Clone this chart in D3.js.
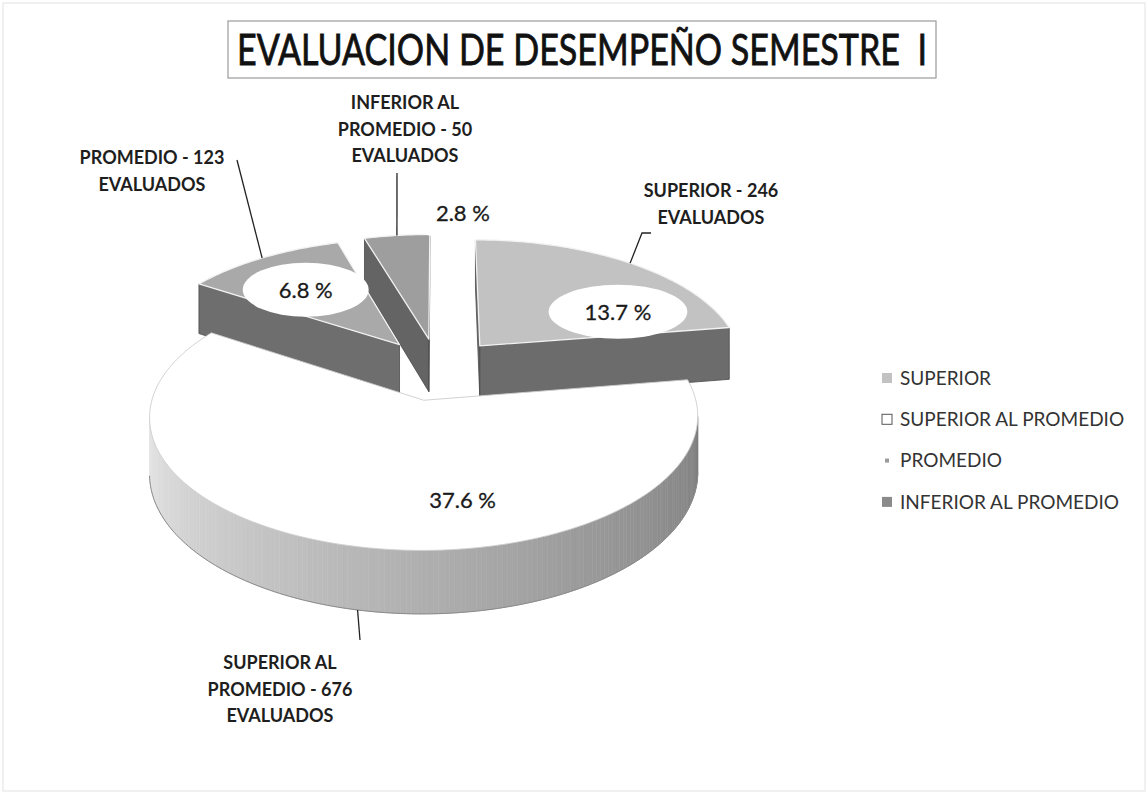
<!DOCTYPE html>
<html lang="es">
<head>
<meta charset="utf-8">
<title>Evaluacion de desempeño semestre I</title>
<script src="https://d3js.org/d3.v7.min.js"></script>
<style>
  body { margin: 0; background: #fff; }
  text { font-family: Lato, "Open Sans", sans-serif; }
</style>
</head>
<body>
<script>

// datos
const categories = ["SUPERIOR", "SUPERIOR AL PROMEDIO", "PROMEDIO", "INFERIOR AL PROMEDIO"];
const counts     = [246, 676, 123, 50];
const percents   = [13.7, 37.6, 6.8, 2.8];
const titleText  = "EVALUACION DE DESEMPEÑO SEMESTRE  I";

const width = 1148, height = 794;

// geometria del pastel 3D (perspectiva simple)
const cx = 438, cy = 369, rx = 264, ry = 124, depth = 54;
const persp = 0.12, explode = 0.25;

const topFill  = ["#c2c2c2", "#ffffff", "#a9a9a9", "#9e9e9e"];
const wallFill = ["#6c6c6c", "#9a9a9a", "#6e6e6e", "#646464"];
const wallShade = d3.scaleLinear()
    .domain([95, 150, 200, 265])
    .range(["#7c7c7c", "#9c9c9c", "#bcbcbc", "#e8e8e8"]);
const swatchFill = ["#c2c2c2", "#ffffff", "#9a9a9a", "#8a8a8a"];

// posicion de las etiquetas de porcentaje (desplazamiento angular, radio)
const pctShift = [21.5, -23, -2, 15];
const pctR     = [0.634, 0.706, 0.63, 1.243];

// etiquetas con nombre: centro de la primera linea y puntos de la guia
const calloutPos = [[711, 191], [280, 663], [152, 158], [405, 103]];
const leaderPts  = [[[651, 233], [642, 233]], [[360, 640]], [[237, 160]], [[397, 173]]];
const leaderZ    = [0, 1, 0, 0];

const svg = d3.select("body").append("svg")
    .attr("width", width)
    .attr("height", height);

svg.append("rect")
    .attr("x", 3).attr("y", 3)
    .attr("width", width - 6).attr("height", height - 6)
    .attr("fill", "#fff")
    .attr("stroke", "#e2e2e2");

// titulo
svg.append("rect")
    .attr("x", 228).attr("y", 21)
    .attr("width", 708).attr("height", 57)
    .attr("fill", "#fff")
    .attr("stroke", "#9a9a9a")
    .attr("stroke-width", 1.2);

svg.append("text")
    .attr("x", 582).attr("y", 65)
    .attr("text-anchor", "middle")
    .attr("font-size", 42)
    .attr("fill", "#111")
    .attr("stroke", "#111")
    .attr("stroke-width", 0.8)
    .attr("textLength", 690)
    .attr("lengthAdjust", "spacingAndGlyphs")
    .style("white-space", "pre")
    .text(titleText);

// pastel
const pie = d3.pie().sort(null).startAngle(0).endAngle(2 * Math.PI);
const slices = pie(counts).map(function(d, i) {
    const mid = (d.startAngle + d.endAngle) / 2;
    return Object.assign({}, d, {
        i: i, mid: mid,
        ou: explode * Math.sin(mid),
        ov: explode * Math.cos(mid)
    });
});

function proj(u, v, z) {
    const f = 1 / (1 + persp * v);
    return [cx + rx * u * f, cy - ry * v * f + depth * z * f];
}
function rim(s, a, z, r) {
    if (r === undefined) r = 1;
    return proj(s.ou + r * Math.sin(a), s.ov + r * Math.cos(a), z);
}
const deg = a => a * 180 / Math.PI;
const line = d3.line();
const eyeV = -1 / persp;

function angles(s) {
    const step = Math.PI / 180;
    return d3.range(s.startAngle, s.endAngle, step).concat([s.endAngle]);
}

const pieG = svg.append("g");

// del fondo hacia el frente
const order = slices.slice().sort((a, b) => b.ov - a.ov);

order.forEach(function(s) {
    const g = pieG.append("g");
    const as = angles(s);

    // pared exterior, solo la parte que mira al observador
    for (let k = 0; k < as.length - 1; k++) {
        const a = as[k], b = as[k + 1], m = (a + b) / 2;
        const pu = s.ou + Math.sin(m), pv = s.ov + Math.cos(m);
        const vis = Math.sin(m) * (-pu) + Math.cos(m) * (eyeV - pv);
        if (vis <= 0) continue;
        const col = s.i === 1 ? wallShade(deg(m)) : wallFill[s.i];
        g.append("path")
            .attr("d", line([rim(s, a, 0), rim(s, b, 0), rim(s, b, 1), rim(s, a, 1)]) + "Z")
            .attr("fill", col)
            .attr("stroke", col)
            .attr("stroke-width", 0.6);
    }
    // borde inferior de la pared
    const bottomVis = as.filter(function(a) {
        const pu = s.ou + Math.sin(a), pv = s.ov + Math.cos(a);
        return Math.sin(a) * (-pu) + Math.cos(a) * (eyeV - pv) > 0;
    });
    if (bottomVis.length > 1) {
        g.append("path")
            .attr("d", line(bottomVis.map(a => rim(s, a, 1))))
            .attr("fill", "none")
            .attr("stroke", "#8a8a8a")
            .attr("stroke-width", 1);
    }

    // paredes radiales
    const walls = [
        { a: s.startAngle, n: [-Math.cos(s.startAngle), Math.sin(s.startAngle)] },
        { a: s.endAngle,   n: [Math.cos(s.endAngle), -Math.sin(s.endAngle)] }
    ];
    walls.forEach(function(w) {
        const vis = w.n[0] * (-s.ou) + w.n[1] * (eyeV - s.ov);
        if (vis <= 0) return;
        g.append("path")
            .attr("d", line([rim(s, 0, 0, 0), rim(s, w.a, 0), rim(s, w.a, 1), rim(s, 0, 1, 0)]) + "Z")
            .attr("fill", wallFill[s.i])
            .attr("stroke", "#4a4a4a")
            .attr("stroke-width", 0.8)
            .attr("stroke-linejoin", "round");
    });

    // cara superior
    g.append("path")
        .attr("d", line([rim(s, 0, 0, 0)].concat(as.map(a => rim(s, a, 0)))) + "Z")
        .attr("fill", topFill[s.i])
        .attr("stroke", s.i === 1 ? "#cdcdcd" : "#f2f2f2")
        .attr("stroke-width", s.i === 1 ? 0.9 : 1.3)
        .attr("stroke-linejoin", "round");
});

// etiquetas de porcentaje con fondo eliptico
slices.forEach(function(s) {
    const p = rim(s, s.mid + pctShift[s.i] * Math.PI / 180, 0, pctR[s.i]);
    const g = svg.append("g").attr("transform", "translate(" + p + ")");
    const ell = g.append("ellipse").attr("fill", "#fff");
    const t = g.append("text")
        .attr("text-anchor", "middle")
        .attr("dy", "0.36em")
        .attr("font-size", 22)
        .attr("fill", "#1a1a1a")
        .attr("stroke", "#1a1a1a")
        .attr("stroke-width", 0.3)
        .text(d3.format(".1f")(percents[s.i]) + " %");
    const w = t.node().getComputedTextLength();
    ell.attr("rx", w / 2 + 36).attr("ry", 27);
});

// lineas guia
slices.forEach(function(s) {
    const end = rim(s, s.mid, leaderZ[s.i]);
    svg.append("path")
        .attr("d", line(leaderPts[s.i].concat([end])))
        .attr("fill", "none")
        .attr("stroke", "#222")
        .attr("stroke-width", 1.3);
});

// etiquetas con nombre y cantidad
function wrapLines(str, maxW) {
    const probe = svg.append("text").attr("font-size", 18).attr("font-weight", 700);
    const words = str.split(" ");
    const lines = [];
    let cur = "";
    words.forEach(function(wd) {
        const test = cur ? cur + " " + wd : wd;
        probe.text(test);
        if (probe.node().getComputedTextLength() > maxW && cur) {
            lines.push(cur);
            cur = wd;
        } else {
            cur = test;
        }
    });
    lines.push(cur);
    probe.remove();
    return lines;
}

slices.forEach(function(s) {
    const label = categories[s.i] + " - " + counts[s.i] + " EVALUADOS";
    const lines = wrapLines(label, 175);
    const t = svg.append("text")
        .attr("text-anchor", "middle")
        .attr("font-size", 18)
        .attr("font-weight", 700)
        .attr("fill", "#1e1e1e");
    lines.forEach(function(l, k) {
        t.append("tspan")
            .attr("x", calloutPos[s.i][0])
            .attr("y", calloutPos[s.i][1] + k * 26.5)
            .attr("dy", "0.36em")
            .text(l);
    });
});

// leyenda
const legend = svg.append("g").attr("transform", "translate(882,378)");
categories.forEach(function(c, i) {
    const row = legend.append("g").attr("transform", "translate(0," + (i * 41.3) + ")");
    const sz = i === 2 ? 4 : 10;
    row.append("rect")
        .attr("x", 5 - sz / 2).attr("y", -sz / 2)
        .attr("width", sz).attr("height", sz)
        .attr("fill", swatchFill[i])
        .attr("stroke", i === 1 ? "#555" : "none")
        .attr("stroke-width", 1);
    row.append("text")
        .attr("x", 18)
        .attr("dy", "0.36em")
        .attr("font-size", 19)
        .attr("fill", "#333")
        .text(c);
});

</script>
</body>
</html>
